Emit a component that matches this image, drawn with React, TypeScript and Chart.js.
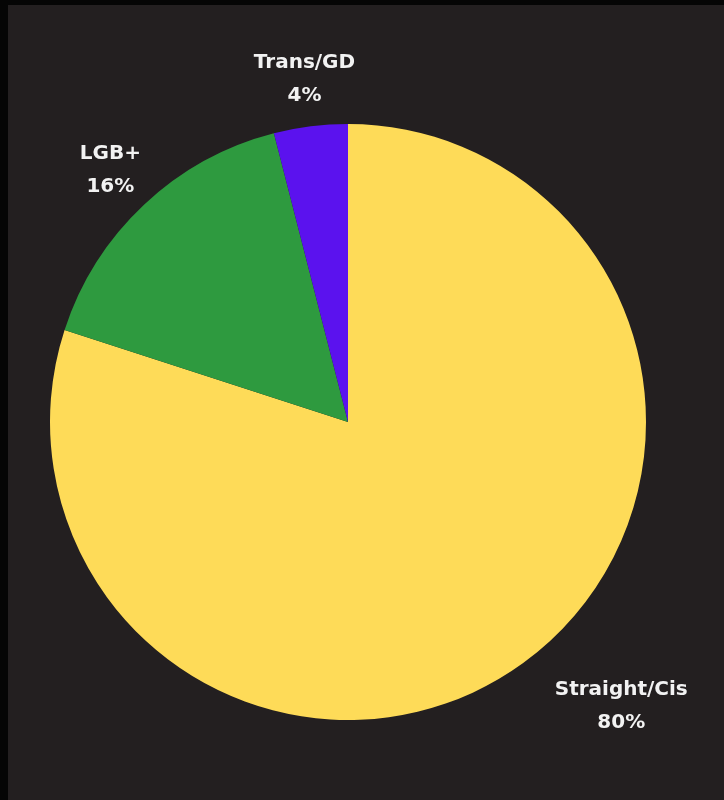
import React, { useEffect, useRef } from "react";
import { Chart, registerables } from "chart.js";

Chart.register(...registerables);

const categories = ["Straight/Cis", "LGB+", "Trans/GD"];
const values = [80, 16, 4];
const percentLabels = ["80%", "16%", "4%"];
const colors = ["#FEDB58", "#2E9A3F", "#5B12EE"];
// label placement: angle shift (deg) from slice middle and distance factor of radius
const labelAngleShift = [-8, 0, 0];
const labelDistance = [1.32, 1.165, 1.165];

const labelPlugin = {
  id: "outerLabels",
  afterDatasetsDraw(chart: any) {
    const ctx = chart.ctx;
    const meta = chart.getDatasetMeta(0);
    ctx.save();
    ctx.fillStyle = "#f2f2f2";
    ctx.font = "bold 20px 'DejaVu Sans', sans-serif";
    ctx.textAlign = "center";
    ctx.textBaseline = "middle";
    meta.data.forEach((arc: any, i: number) => {
      const { x, y, startAngle, endAngle, outerRadius } = arc.getProps(
        ["x", "y", "startAngle", "endAngle", "outerRadius"],
        true
      );
      const mid = (startAngle + endAngle) / 2 + (labelAngleShift[i] * Math.PI) / 180;
      const d = outerRadius * labelDistance[i];
      const cx = x + Math.cos(mid) * d;
      const cy = y + Math.sin(mid) * d;
      ctx.fillText(categories[i], cx, cy - 15);
      ctx.fillText(percentLabels[i], cx, cy + 18);
    });
    ctx.restore();
  },
};

export default function App() {
  const ref = useRef<HTMLCanvasElement>(null);
  useEffect(() => {
    document.body.style.margin = "0";
    const chart = new Chart(ref.current!, {
      type: "pie",
      data: {
        labels: categories,
        datasets: [
          {
            data: values,
            backgroundColor: colors,
            borderWidth: 0,
          },
        ],
      },
      options: {
        animation: false,
        responsive: false,
        layout: { padding: { left: 42, right: 78, top: 119, bottom: 80 } },
        plugins: { legend: { display: false }, tooltip: { enabled: false } },
      },
      plugins: [labelPlugin],
    });
    return () => chart.destroy();
  }, []);
  return (
    <div style={{ position: "absolute", left: 0, top: 0, width: 724, height: 800, background: "#050505" }}>
      <div style={{ position: "absolute", left: 8, top: 5, width: 716, height: 795, background: "#231F20" }}>
        <canvas ref={ref} width={716} height={795} style={{ display: "block" }} />
      </div>
    </div>
  );
}
